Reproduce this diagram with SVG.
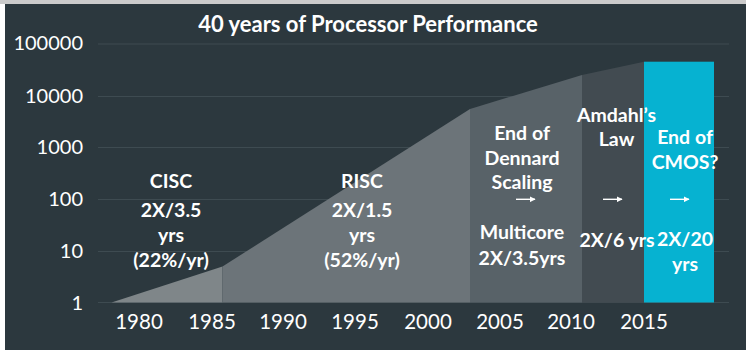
<svg xmlns="http://www.w3.org/2000/svg" width="746" height="350" viewBox="0 0 746 350">
  <style>
    .grid { stroke: #3e4b51; stroke-width: 1; }
    .ylab { font-family: Lato, "Open Sans", "Liberation Sans", sans-serif; font-size: 20px; fill: #ffffff; text-anchor: end; }
    .xlab { font-family: Lato, "Open Sans", "Liberation Sans", sans-serif; font-size: 20.5px; fill: #ffffff; text-anchor: middle; }
    .lbl { font-family: Lato, "Open Sans", "Liberation Sans", sans-serif; font-weight: bold; font-size: 19.5px; fill: #ffffff; text-anchor: middle; }
    .title { font-family: Lato, "Open Sans", "Liberation Sans", sans-serif; font-weight: bold; font-size: 22px; fill: #ffffff; text-anchor: middle; }
    .arr { stroke: #ffffff; stroke-width: 1.4; fill: none; }
  </style>
  <defs>
    <marker id="ah" viewBox="0 0 10 10" refX="9" refY="5" markerWidth="6" markerHeight="6" markerUnits="userSpaceOnUse" orient="auto">
      <path d="M0,0 L10,5 L0,10 z" fill="#ffffff"/>
    </marker>
  </defs>
  <rect x="0" y="0" width="746" height="350" fill="#ffffff"/>
  <rect x="0" y="0" width="746" height="4" fill="#cbcbcb"/>
  <rect x="5" y="4" width="741" height="346" fill="#2c383e"/>

  <g id="gridlines">
    <line class="grid" x1="98" y1="44" x2="729" y2="44"/>
    <line class="grid" x1="98" y1="96.5" x2="729" y2="96.5"/>
    <line class="grid" x1="98" y1="147.5" x2="729" y2="147.5"/>
    <line class="grid" x1="98" y1="199.5" x2="729" y2="199.5"/>
    <line class="grid" x1="98" y1="251.5" x2="729" y2="251.5"/>
    <line class="grid" x1="98" y1="302.5" x2="729" y2="302.5"/>
  </g>

  <text class="title" x="368" y="31.5">40 years of Processor Performance</text>

  <g id="y-axis">
    <text class="ylab" x="83" y="50">100000</text>
    <text class="ylab" x="83" y="103">10000</text>
    <text class="ylab" x="83" y="154">1000</text>
    <text class="ylab" x="83" y="206">100</text>
    <text class="ylab" x="83" y="258">10</text>
    <text class="ylab" x="83" y="309.5">1</text>
  </g>

  <g id="x-axis">
    <text class="xlab" x="139" y="328.5">1980</text>
    <text class="xlab" x="212" y="328.5">1985</text>
    <text class="xlab" x="283" y="328.5">1990</text>
    <text class="xlab" x="355" y="328.5">1995</text>
    <text class="xlab" x="428" y="328.5">2000</text>
    <text class="xlab" x="500" y="328.5">2005</text>
    <text class="xlab" x="571" y="328.5">2010</text>
    <text class="xlab" x="644" y="328.5">2015</text>
  </g>

  <g id="cisc">
    <polygon points="111.5,302.5 222.5,266.5 222.5,302.5" fill="#7f8689"/>
    <text class="lbl" x="171" y="188">CISC</text>
    <text class="lbl" x="171" y="217">2X/3.5</text>
    <text class="lbl" x="171" y="242">yrs</text>
    <text class="lbl" x="171" y="267">(22%/yr)</text>
  </g>

  <g id="risc">
    <polygon points="222.5,266.5 470,109 470,302.5 222.5,302.5" fill="#6c7479"/>
    <text class="lbl" x="362" y="188">RISC</text>
    <text class="lbl" x="362" y="217">2X/1.5</text>
    <text class="lbl" x="362" y="242">yrs</text>
    <text class="lbl" x="362" y="267">(52%/yr)</text>
  </g>

  <g id="dennard">
    <polygon points="470,109 582,75 582,302.5 470,302.5" fill="#586268"/>
    <text class="lbl" x="522" y="139.5">End of</text>
    <text class="lbl" x="522" y="165">Dennard</text>
    <text class="lbl" x="522" y="188.5">Scaling</text>
    <text class="lbl" x="522" y="238.5">Multicore</text>
    <text class="lbl" x="522" y="265">2X/3.5yrs</text>
  </g>

  <g id="cmos">
    <rect x="644" y="61.7" width="70" height="240.8" fill="#06b2d1"/>
    <text class="lbl" x="685" y="143.5">End of</text>
    <text class="lbl" x="685" y="168.5">CMOS?</text>
    <text class="lbl" x="685" y="246">2X/20</text>
    <text class="lbl" x="685" y="270.5">yrs</text>
  </g>

  <g id="amdahl">
    <polygon points="582,75 644,61.7 644,302.5 582,302.5" fill="#424b51"/>
    <text class="lbl" x="616.5" y="122">Amdahl’s</text>
    <text class="lbl" x="616.5" y="146">Law</text>
    <text class="lbl" x="617" y="247">2X/6 yrs</text>
  </g>

  <g id="connectors">
    <line class="arr" x1="516" y1="199.3" x2="535" y2="199.3" marker-end="url(#ah)"/>
    <line class="arr" x1="603" y1="199.3" x2="622" y2="199.3" marker-end="url(#ah)"/>
    <line class="arr" x1="670" y1="199.3" x2="689" y2="199.3" marker-end="url(#ah)"/>
  </g>
</svg>
